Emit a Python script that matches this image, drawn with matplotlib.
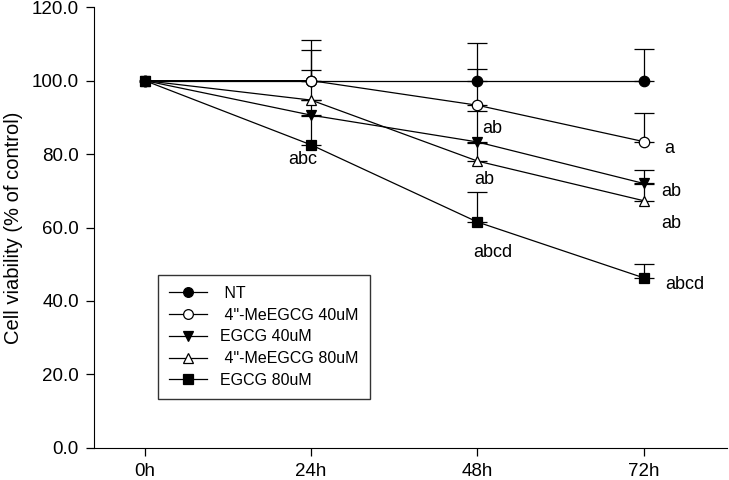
import matplotlib
matplotlib.use("Agg")
import matplotlib.pyplot as plt
from matplotlib.lines import Line2D
import numpy as np

plt.rcParams['font.family'] = ['Liberation Sans', 'DejaVu Sans']

times = ["0h", "24h", "48h", "72h"]
labels = [" NT", " 4\"-MeEGCG 40uM", "EGCG 40uM", " 4\"-MeEGCG 80uM", "EGCG 80uM"]

nt = [100, 100, 100, 100]
me40 = [100, 100, 93.3, 83.4]
egcg40 = [100, 90.6, 83.3, 72.0]
me80 = [100, 94.7, 78.1, 67.3]
egcg80 = [100, 82.5, 61.5, 46.3]

# upper error only
nt_err = [0, 11.0, 10.3, 8.6]
me40_err = [0, 8.3, 9.8, 7.7]
egcg40_err = [0, 4.0, 8.4, 3.6]
me80_err = [0, 8.3, 5.0, 4.5]
egcg80_err = [0, 8.0, 8.2, 3.7]

# letters next to points
notes_x = [0.95, 2.09, 2.04, 2.09, 3.155, 3.167, 3.167, 3.245]
notes_y = [78.4, 87.1, 73.2, 53.1, 81.6, 69.9, 61.2, 44.4]
notes_t = ["abc", "ab", "ab", "abcd", "a", "ab", "ab", "abcd"]

series = [nt, me40, egcg40, me80, egcg80]
errs = [nt_err, me40_err, egcg40_err, me80_err, egcg80_err]
markers = ['o', 'o', 'v', '^', 's']
faces = ['black', 'white', 'black', 'white', 'black']

fig = plt.figure(figsize=(7.29, 4.80), dpi=100)
ax = fig.add_axes([0.129, 0.067, 0.868, 0.918])

x = np.arange(len(times))
handles = []
for vals, err, m, fc, lab in zip(series, errs, markers, faces, labels):
    lower = np.zeros(len(err))
    ax.errorbar(x, vals, yerr=[lower, err], errorevery=(1, 1), color='black', lw=0.9,
                marker=m, markersize=7.5, markerfacecolor=fc, markeredgecolor='black',
                markeredgewidth=0.9, capsize=7, capthick=0.9, elinewidth=0.9)
    handles.append(Line2D([], [], color='black', lw=0.9, marker=m, markersize=7,
                          markerfacecolor=fc, markeredgecolor='black',
                          markeredgewidth=0.9, label=lab))

for xi, yi, t in zip(notes_x, notes_y, notes_t):
    ax.text(xi, yi, t, fontsize=13, ha='center', va='center')

ax.set_xlim(-0.306, 3.5)
ax.set_ylim(0, 120)
ax.set_xticks(x)
ax.set_xticklabels(times)
ax.set_yticks(np.arange(0, 121, 20))
ax.set_yticklabels(["%.1f" % v for v in np.arange(0, 121, 20)])
ax.tick_params(direction='out', length=6, width=0.9, labelsize=13.5, pad=5)
ax.spines['top'].set_visible(False)
ax.spines['right'].set_visible(False)
ax.set_ylabel("Cell viability (% of control)", fontsize=14.5, labelpad=6)

leg = ax.legend(handles=handles, loc='upper left', bbox_to_anchor=(0.101, 0.3926),
                borderaxespad=0, fontsize=11.5, frameon=True, fancybox=False,
                edgecolor='black', handlelength=2.4, labelspacing=0.42, borderpad=0.7)
leg.get_frame().set_linewidth(1.0)

fig.savefig("out.png", dpi=100)
